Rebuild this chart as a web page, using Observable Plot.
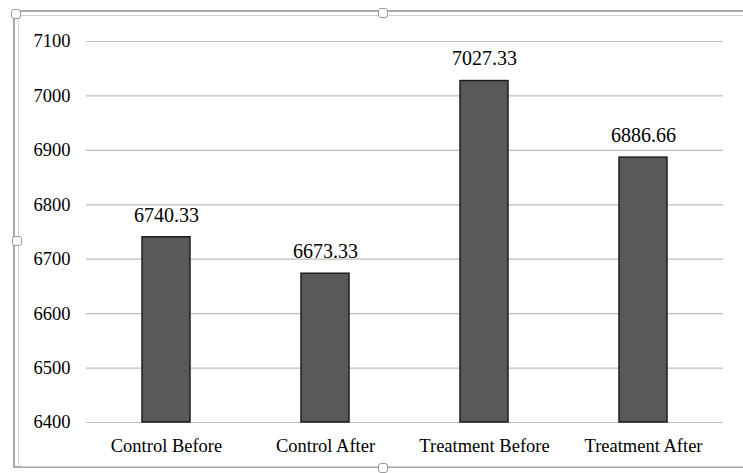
<!DOCTYPE html>
<html>
<head>
<meta charset="utf-8">
<script src="https://cdn.jsdelivr.net/npm/d3@7"></script>
<script src="https://cdn.jsdelivr.net/npm/@observablehq/plot@0.6"></script>
<style>
  html, body { margin: 0; padding: 0; background: #fff; }
  #wrap { position: relative; width: 743px; height: 473px; overflow: hidden; background: #fff; }
  .frame-outer { position: absolute; left: 13px; top: 10px; width: 800px; height: 458px; border: 2px solid #a9a9a9; box-sizing: border-box; }
  .frame-inner { position: absolute; left: 18px; top: 15px; width: 800px; height: 452px; border: 1px solid #cfcfcf; border-radius: 4px; box-sizing: border-box; }
  .handle { position: absolute; width: 10px; height: 10px; border: 1.5px solid #9a9a9a; border-radius: 3px; background: #fff; box-sizing: border-box; }
  #chart { position: absolute; left: 0; top: 0; }
</style>
</head>
<body>
<div id="wrap">
  <div class="frame-outer"></div>
  <div class="frame-inner"></div>
  <div class="handle" style="left:11px;top:9px"></div>
  <div class="handle" style="left:378px;top:8px"></div>
  <div class="handle" style="left:12px;top:236px"></div>
  <div class="handle" style="left:378px;top:463px"></div>
  <div id="chart"></div>
</div>
<script>
const categories = ["Control Before", "Control After", "Treatment Before", "Treatment After"];
const values = [6740.33, 6673.33, 7027.33, 6886.66];
const valueLabels = ["6740.33", "6673.33", "7027.33", "6886.66"];
const yTicks = [6400, 6500, 6600, 6700, 6800, 6900, 7000, 7100];

const data = categories.map((c, i) => ({category: c, value: values[i], label: valueLabels[i]}));
const base = yTicks[0];

const chart = Plot.plot({
  width: 743,
  height: 473,
  marginLeft: 86,
  marginRight: 20,
  marginTop: 41,
  marginBottom: 51,
  style: {fontFamily: "'Liberation Serif', 'Times New Roman', serif", fontSize: "18px", color: "#000", background: "transparent"},
  x: {domain: categories, paddingInner: 0.7, paddingOuter: 0.35, label: null},
  y: {domain: [yTicks[0], yTicks[yTicks.length - 1]], label: null},
  marks: [
    Plot.gridY(yTicks, {stroke: "#bdbdbd", strokeOpacity: 1, strokeWidth: 1.2}),
    Plot.axisY(yTicks, {tickSize: 0, tickPadding: 16, tickFormat: d => String(d), fontSize: 18.5, fill: "#000", label: null}),
    Plot.axisX({tickSize: 0, tickPadding: 16, fontSize: 18.5, fill: "#000", label: null}),
    Plot.barY(data, {x: "category", y1: () => base, y2: "value", fill: "#595959", stroke: "#1e1e1e", strokeWidth: 1.5}),
    Plot.text(data, {x: "category", y: "value", text: "label", dy: -22, fontSize: 20, fill: "#000"})
  ]
});
document.getElementById("chart").appendChild(chart);
</script>
</body>
</html>
